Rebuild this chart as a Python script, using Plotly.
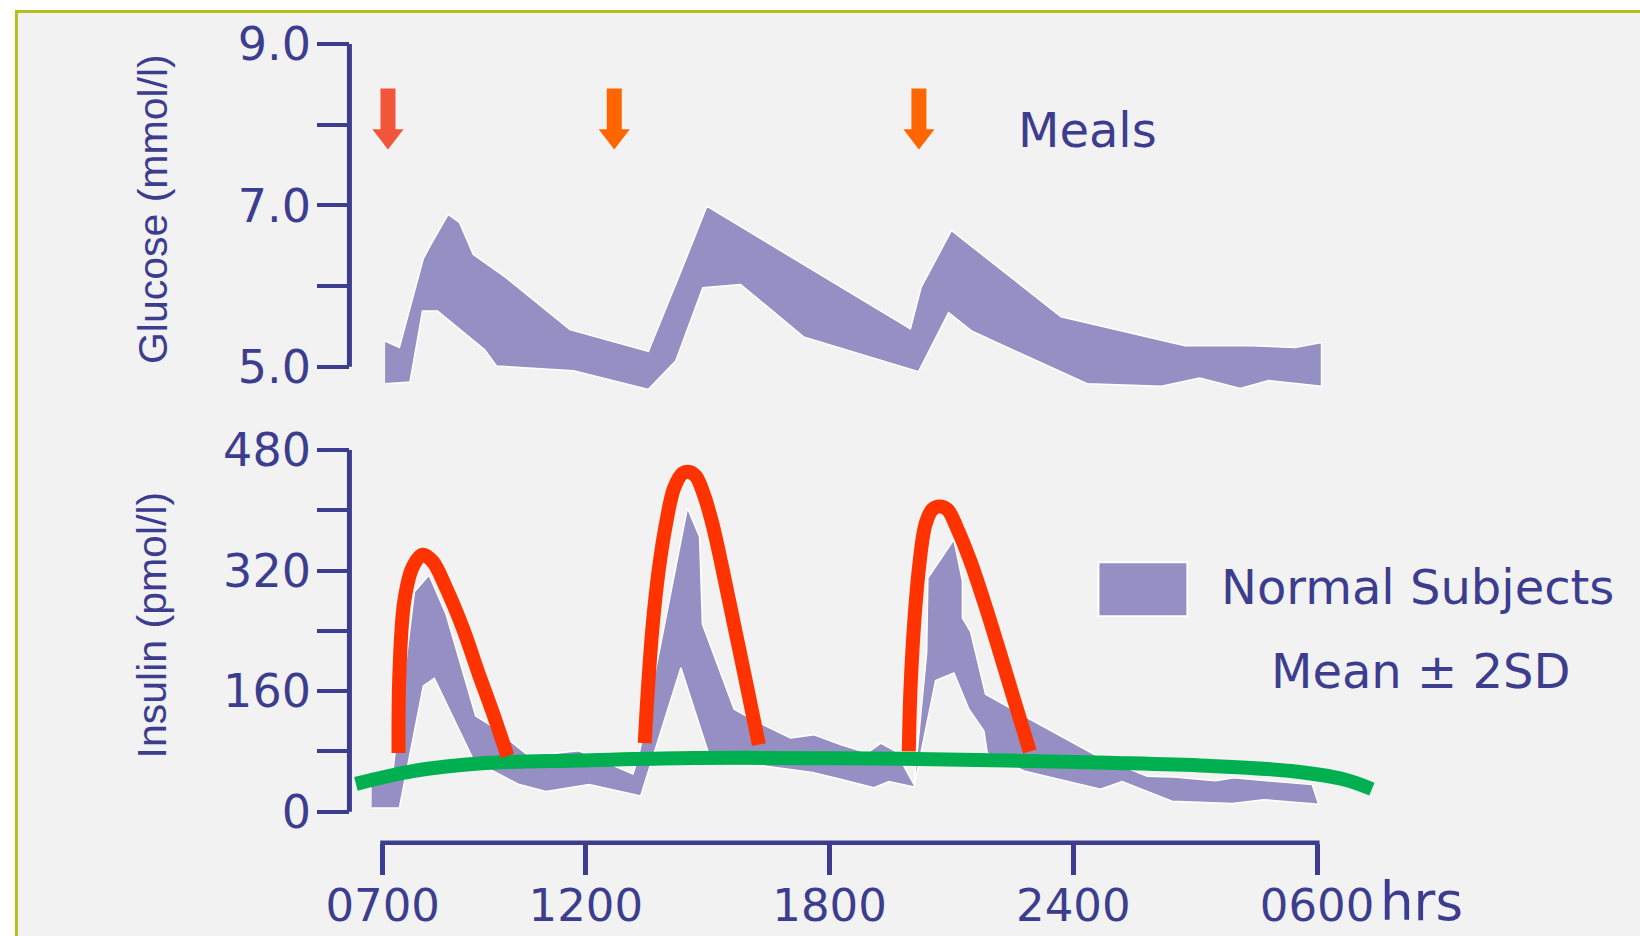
import plotly.graph_objects as go

# ---------------- data (hours after 07:00, mmol/l, pmol/l) ----------------
hour_ticks = [0, 5, 11, 17, 23]
hour_labels = ["0700", "1200", "1800", "2400", "0600"]

glucose_ticks = [5, 6, 7, 8, 9]
glucose_labels = ["5.0", "", "7.0", "", "9.0"]
insulin_ticks = [0, 80, 160, 240, 320, 400, 480]
insulin_labels = ["0", "", "160", "", "320", "", "480"]

glucose_up_t = [0.06, 0.41, 1.00, 1.18, 1.61, 1.89, 2.23, 3.02, 4.61, 6.54, 7.34, 7.98,
                12.99, 13.25, 14.00, 16.70, 19.75, 21.40, 22.46, 23.11]
glucose_up = [5.32, 5.24, 6.34, 6.51, 6.89, 6.79, 6.39, 6.11, 5.46, 5.19, 6.18, 6.99,
              5.47, 5.98, 6.69, 5.62, 5.26, 5.26, 5.24, 5.30]
glucose_lo_t = [0.06, 0.67, 0.98, 1.35, 2.51, 2.80, 4.70, 6.54, 7.21, 7.88, 8.81, 10.36,
                13.19, 13.93, 14.51, 17.34, 19.17, 20.11, 21.11, 21.81, 23.11]
glucose_lo = [4.79, 4.81, 5.69, 5.69, 5.21, 5.01, 4.95, 4.72, 5.07, 5.98, 6.02, 5.37,
              4.94, 5.67, 5.44, 4.79, 4.76, 4.86, 4.73, 4.83, 4.76]

insulin_up_t = [-0.27, 0.25, 0.78, 1.14, 1.56, 2.29, 2.62, 3.20, 3.60, 4.83, 5.33, 6.16,
                6.31, 7.50, 7.80, 7.87, 8.65, 9.26, 10.04, 10.62, 11.27, 11.93, 12.26,
                12.63, 13.08, 13.39, 13.42, 14.06, 14.27, 14.27, 14.47, 14.84, 15.86,
                17.59, 18.82, 19.47, 20.50, 20.95, 22.88, 23.04]
insulin_up = [41, 54, 292, 314, 262, 127, 116, 91, 74, 81, 69, 50,
              76, 403, 365, 249, 136, 118, 98, 102, 89, 78, 91,
              80, 36, 211, 310, 361, 306, 257, 239, 156, 125,
              74, 47, 46, 41, 45, 36, 10]
insulin_lo_t = [-0.27, 0.41, 1.00, 1.27, 2.25, 3.36, 4.02, 5.08, 6.35, 7.34, 8.03, 8.12,
                9.35, 10.58, 11.27, 12.09, 12.46, 13.08, 13.61, 14.06, 14.43, 14.80,
                14.88, 15.78, 17.67, 18.20, 19.43, 20.91, 21.69, 23.04]
insulin_lo = [5, 5, 167, 177, 67, 36, 27, 36, 21, 191, 76, 63,
              61, 52, 43, 32, 40, 33, 174, 184, 136, 107,
              78, 54, 30, 40, 14, 11, 16, 10]

red1_t = [0.39, 0.41, 0.53, 0.74, 0.98, 1.23, 1.56, 1.97, 2.37, 2.70, 3.07]
red1 = [78, 182, 279, 325, 341, 332, 297, 244, 182, 133, 74]
red2_t = [6.45, 6.52, 6.64, 6.80, 6.97, 7.17, 7.38, 7.54, 7.71, 7.91, 8.12, 8.36, 8.65, 8.94, 9.26]
red2 = [91, 156, 244, 323, 381, 429, 449, 451, 445, 420, 381, 323, 248, 173, 89]
red3_t = [12.95, 12.99, 13.08, 13.20, 13.36, 13.53, 13.69, 13.90, 14.14, 14.47, 14.80, 15.13, 15.50, 15.93]
red3 = [80, 160, 248, 323, 381, 401, 405, 401, 376, 332, 279, 222, 156, 80]

green_t = [-0.66, 0.74, 2.37, 4.83, 7.29, 11.27, 15.37, 17.83, 20.29, 22.36, 23.65, 24.35]
green = [37, 54, 64, 68, 71, 71, 68, 65, 61, 54, 43, 30]

meal_t = [0.13, 5.70, 13.20]
meal_colors = ["#f2553a", "#ff6600", "#ff6600"]
ARROW_TOP = 8.45
ARROW_NECK = 7.90
ARROW_HEAD = 7.86

# ---------------- styling / layout constants ----------------
W, H = 1640, 936
# measured placement of the rendered page inside the photograph
OX, OY, SX, SY = 13.85, 7.6, 0.9915, 0.991
AX = "#3d3d8f"
BAND = "#968fc3"
RED = "#ff3300"
GREEN = "#00b050"
OLIVE = "#b5be1d"
TICK_FONT = dict(family="DejaVu Sans", size=46, color=AX)
XTICK_FONT = dict(family="DejaVu Sans", size=45, color=AX)

# target positions (pixels of the picture)
X0_PX, PX_PER_H = 381.8, 40.65
G5_PX, PX_PER_MMOL = 365.0, 80.83
I0_PX, PX_PER_PMOL = 810.7, 0.755
AXIS_X_PX = 348.5
XDOM_PX = (340, 1400)
GDOM_PX = (25, 400)
IDOM_PX = (420, 841.7)


def fx(px):
    return (px - OX) / SX / W


def fy(py):
    return 1 - (py - OY) / SY / H


xrange_h = [(XDOM_PX[0] - X0_PX) / PX_PER_H, (XDOM_PX[1] - X0_PX) / PX_PER_H]
grange = [5 + (G5_PX - GDOM_PX[1]) / PX_PER_MMOL, 5 + (G5_PX - GDOM_PX[0]) / PX_PER_MMOL]
irange = [(I0_PX - IDOM_PX[1]) / PX_PER_PMOL, (I0_PX - IDOM_PX[0]) / PX_PER_PMOL]

fig = go.Figure()

fig.add_trace(go.Scatter(
    x=glucose_up_t + glucose_lo_t[::-1], y=glucose_up + glucose_lo[::-1],
    fill="toself", fillcolor=BAND, mode="lines",
    line=dict(color="white", width=1.5), xaxis="x", yaxis="y",
    showlegend=False, hoverinfo="skip"))

fig.add_trace(go.Scatter(
    x=insulin_up_t + insulin_lo_t[::-1], y=insulin_up + insulin_lo[::-1],
    fill="toself", fillcolor=BAND, mode="lines",
    line=dict(color="white", width=1.5), xaxis="x2", yaxis="y2",
    showlegend=False, hoverinfo="skip"))

fig.add_trace(go.Scatter(
    x=green_t, y=green, mode="lines", line=dict(color=GREEN, width=14, shape="spline"),
    xaxis="x2", yaxis="y2", showlegend=False, hoverinfo="skip"))

for tt, vv in [(red1_t, red1), (red2_t, red2), (red3_t, red3)]:
    fig.add_trace(go.Scatter(
        x=tt, y=vv, mode="lines", line=dict(color=RED, width=14, shape="spline"),
        xaxis="x2", yaxis="y2", showlegend=False, hoverinfo="skip"))

for t, c in zip(meal_t, meal_colors):
    fig.add_trace(go.Scatter(
        x=[t, t], y=[ARROW_TOP, ARROW_NECK], mode="lines",
        line=dict(color=c, width=15), xaxis="x", yaxis="y",
        showlegend=False, hoverinfo="skip"))
    fig.add_trace(go.Scatter(
        x=[t], y=[ARROW_HEAD], mode="markers",
        marker=dict(symbol="triangle-down", size=27, color=c, line=dict(width=0)),
        xaxis="x", yaxis="y", cliponaxis=False, showlegend=False, hoverinfo="skip"))

shapes = [
    dict(type="rect", xref="paper", yref="paper", x0=fx(15.3), x1=1.02, y0=-0.02, y1=fy(9.1),
         fillcolor="#f2f2f2", line=dict(color=OLIVE, width=3), layer="below"),
    dict(type="line", xref="paper", yref="y", x0=fx(AXIS_X_PX), x1=fx(AXIS_X_PX),
         y0=glucose_ticks[0], y1=glucose_ticks[-1], line=dict(color=AX, width=5)),
    dict(type="line", xref="paper", yref="y2", x0=fx(AXIS_X_PX), x1=fx(AXIS_X_PX),
         y0=insulin_ticks[0], y1=insulin_ticks[-1], line=dict(color=AX, width=5)),
    dict(type="line", xref="x2", yref="paper", x0=hour_ticks[0] - 2.5 / PX_PER_H,
         x1=hour_ticks[-1] + 2.5 / PX_PER_H, y0=fy(IDOM_PX[1]), y1=fy(IDOM_PX[1]),
         line=dict(color=AX, width=4.5)),
    dict(type="rect", xref="paper", yref="paper", x0=fx(1098), x1=fx(1187),
         y0=fy(615), y1=fy(560.7), fillcolor=BAND, line=dict(color="white", width=2)),
]

TXT = dict(family="DejaVu Sans", size=48, color=AX)
TITLE = dict(family="Liberation Sans", size=41, color=AX)
annotations = [
    dict(text="Glucose (mmol/l)", x=fx(152), y=fy(207), xref="paper", yref="paper",
         textangle=-90, showarrow=False, font=TITLE, xanchor="center", yanchor="middle"),
    dict(text="Insulin (pmol/l)", x=fx(151), y=fy(624), xref="paper", yref="paper",
         textangle=-90, showarrow=False, font=TITLE, xanchor="center", yanchor="middle"),
    dict(text="Meals", x=fx(1016), y=fy(128), xref="paper", yref="paper", showarrow=False,
         font=dict(family="DejaVu Sans", size=48, color=AX), xanchor="left", yanchor="middle"),
    dict(text="Normal Subjects", x=fx(1219), y=fy(586), xref="paper", yref="paper",
         showarrow=False, font=TXT, xanchor="left", yanchor="middle"),
    dict(text="Mean ± 2SD", x=fx(1269), y=fy(670), xref="paper", yref="paper",
         showarrow=False, font=TXT, xanchor="left", yanchor="middle"),
    dict(text="hrs", x=fx(1378), y=fy(901), xref="paper", yref="paper",
         showarrow=False, font=dict(family="DejaVu Sans", size=53, color=AX),
         xanchor="left", yanchor="middle"),
]

common_y = dict(ticks="outside", ticklen=32.3, tickwidth=4, tickcolor=AX, showline=False,
                showgrid=False, zeroline=False, tickfont=TICK_FONT, anchor="free",
                position=fx(AXIS_X_PX), ticklabelstandoff=-3)

fig.update_layout(
    width=W, height=H, margin=dict(l=0, r=0, t=0, b=0),
    paper_bgcolor="white", plot_bgcolor="rgba(0,0,0,0)",
    showlegend=False,
    xaxis=dict(domain=[fx(XDOM_PX[0]), fx(XDOM_PX[1])], range=xrange_h, visible=False,
               anchor="y"),
    yaxis=dict(domain=[fy(GDOM_PX[1]), fy(GDOM_PX[0])], range=grange,
               tickvals=glucose_ticks, ticktext=glucose_labels, **common_y),
    xaxis2=dict(domain=[fx(XDOM_PX[0]), fx(XDOM_PX[1])], range=xrange_h, anchor="y2",
                tickvals=hour_ticks, ticktext=hour_labels, ticks="outside", ticklen=31.3,
                tickwidth=5, tickcolor=AX, showline=False, showgrid=False, zeroline=False,
                tickfont=XTICK_FONT, ticklabelstandoff=-8),
    yaxis2=dict(domain=[fy(IDOM_PX[1]), fy(IDOM_PX[0])], range=irange,
                tickvals=insulin_ticks, ticktext=insulin_labels, **common_y),
    shapes=shapes,
    annotations=annotations,
)

fig.write_html("out.html", config={"displayModeBar": False},
               post_script="document.body.style.margin='0';")
